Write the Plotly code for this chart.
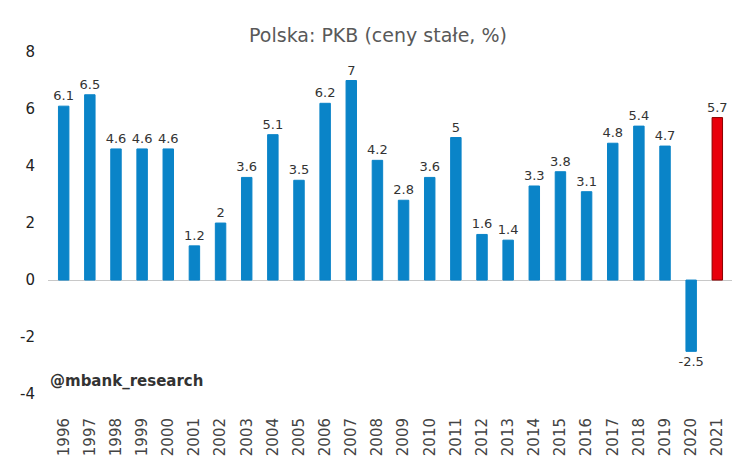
import plotly.graph_objects as go

years = [str(y) for y in range(1996, 2022)]
values = [6.1, 6.5, 4.6, 4.6, 4.6, 1.2, 2, 3.6, 5.1, 3.5, 6.2, 7, 4.2, 2.8, 3.6, 5, 1.6, 1.4, 3.3, 3.8, 3.1, 4.8, 5.4, 4.7, -2.5, 5.7]
labels = ["6.1","6.5","4.6","4.6","4.6","1.2","2","3.6","5.1","3.5","6.2","7","4.2","2.8","3.6","5","1.6","1.4","3.3","3.8","3.1","4.8","5.4","4.7","-2.5","5.7"]
ytick_vals = [-4, -2, 0, 2, 4, 6, 8]
ytick_text = ["-4", "-2", "0", "2", "4", "6", "8"]
colors = ["#0a84c8"] * 25 + ["#e8000b"]
lines = ["#0a84c8"] * 25 + ["#8b0000"]

fig = go.Figure(go.Bar(
    x=years, y=values, text=labels, textposition="outside", constraintext="none",
    textfont=dict(size=13, color="#333333", family="DejaVu Sans"),
    marker=dict(color=colors, line=dict(color=lines, width=1)),
    width=0.4, cliponaxis=False,
))
fig.update_layout(
    width=740, height=460, plot_bgcolor="white", paper_bgcolor="white",
    margin=dict(l=40, r=15, t=52, b=67),
    title=dict(text="Polska: PKB (ceny stałe, %)", x=0.5, xanchor="center", y=0.955,
               font=dict(size=19, color="#595959", family="DejaVu Sans")),
    font=dict(family="DejaVu Sans", color="#222222"),
    showlegend=False,
    xaxis=dict(tickangle=-90, tickfont=dict(size=15, color="#444444"), showline=False,
               ticks="", anchor="free", position=0, range=[-0.6, 25.6]),
    yaxis=dict(range=[-4, 8], tickvals=ytick_vals, ticktext=ytick_text,
               tickfont=dict(size=15, color="#222222"),
               showgrid=False, zeroline=True, zerolinecolor="#c8c8c8", zerolinewidth=1,
               ticklabelstandoff=12, domain=[0.055, 1]),
    annotations=[dict(text="<b>@mbank_research</b>", xref="paper", yref="paper",
                      x=0.0, y=0.06, xanchor="left", yanchor="bottom", showarrow=False,
                      font=dict(size=15, color="#333333"))],
)
fig.update_layout(margin=dict(t=44, b=48))
fig.write_html("out.html")
